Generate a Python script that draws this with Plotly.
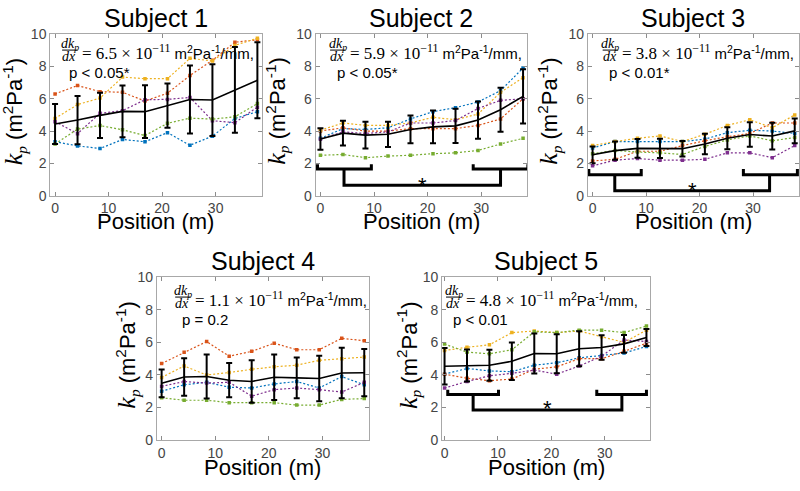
import plotly.graph_objects as go

W, H = 800, 491

# ---------------- data ----------------
POSITIONS = [0, 4.2, 8.4, 12.6, 16.8, 21.0, 25.2, 29.4, 33.6, 37.8]
X_TICKS = [0, 10, 20, 30]
Y_TICKS = [0, 2, 4, 6, 8, 10]
TITLES = ["Subject 1", "Subject 2", "Subject 3", "Subject 4", "Subject 5"]
SLOPES = ["6.5", "5.9", "3.8", "1.1", "4.8"]
P_TEXT = ["p < 0.05*", "p < 0.05*", "p < 0.01*", "p = 0.2", "p < 0.01"]

S1_BLUE = [3.34, 3.08, 2.92, 3.48, 3.34, 3.90, 3.12, 3.68, 4.78, 5.20]
S1_RED = [6.30, 6.82, 6.44, 6.40, 5.86, 6.34, 7.44, 8.38, 9.50, 9.65]
S1_YELLOW = [4.78, 5.64, 6.04, 7.34, 7.24, 7.24, 8.50, 8.34, 9.30, 9.75]
S1_PURPLE = [4.58, 3.84, 5.10, 5.26, 5.94, 5.96, 6.08, 4.64, 4.52, 5.48]
S1_GREEN = [3.20, 4.12, 4.34, 4.08, 3.72, 4.48, 4.80, 4.74, 4.88, 5.70]
S1_MEAN = [4.44, 4.68, 4.97, 5.22, 5.20, 5.57, 5.95, 5.92, 6.55, 7.14]
S1_ERR = [1.24, 1.49, 1.40, 1.60, 1.63, 1.37, 2.10, 2.22, 2.65, 2.35]

S2_BLUE = [3.55, 4.15, 4.10, 4.20, 4.75, 5.20, 5.45, 5.80, 6.50, 7.90]
S2_RED = [4.00, 4.20, 4.00, 4.00, 4.15, 4.15, 4.15, 4.35, 4.75, 6.00]
S2_YELLOW = [4.05, 4.50, 4.35, 4.35, 4.50, 4.85, 4.70, 5.05, 6.40, 7.30]
S2_PURPLE = [3.50, 3.95, 3.85, 3.95, 4.50, 4.50, 4.65, 5.40, 5.90, 6.00]
S2_GREEN = [2.50, 2.55, 2.35, 2.45, 2.50, 2.60, 2.65, 2.80, 3.20, 3.55]
S2_MEAN = [3.51, 3.87, 3.75, 3.80, 4.10, 4.26, 4.32, 4.68, 5.32, 6.15]
S2_ERR = [0.67, 0.77, 0.83, 0.78, 0.86, 1.02, 1.06, 1.15, 1.36, 1.68]

S3_BLUE = [2.95, 3.35, 3.35, 3.35, 3.35, 3.50, 3.90, 4.05, 4.00, 3.85]
S3_RED = [2.15, 2.25, 2.75, 2.75, 3.10, 3.40, 3.65, 3.85, 4.50, 4.50]
S3_YELLOW = [3.10, 3.35, 3.55, 3.70, 3.35, 3.80, 4.35, 4.70, 4.20, 5.00]
S3_PURPLE = [1.85, 2.20, 2.30, 2.20, 2.20, 2.25, 2.65, 2.65, 2.35, 3.10]
S3_GREEN = [2.60, 2.80, 2.70, 2.65, 2.55, 3.05, 3.45, 3.70, 3.40, 3.60]
S3_MEAN = [2.53, 2.79, 2.93, 2.93, 2.91, 3.20, 3.56, 3.79, 3.69, 4.01]
S3_ERR = [0.52, 0.57, 0.58, 0.60, 0.48, 0.63, 0.68, 0.76, 0.83, 0.76]

S4_BLUE = [3.00, 3.40, 3.55, 3.25, 3.20, 3.45, 3.60, 3.20, 3.90, 3.40]
S4_RED = [4.70, 5.40, 6.05, 5.15, 5.45, 5.95, 5.55, 5.55, 6.25, 6.10]
S4_YELLOW = [3.85, 4.55, 4.00, 4.15, 4.35, 4.50, 4.60, 4.90, 5.00, 5.10]
S4_PURPLE = [3.30, 3.60, 3.50, 3.55, 2.70, 3.10, 3.20, 3.10, 2.95, 3.55]
S4_GREEN = [2.60, 2.45, 2.45, 2.30, 2.30, 2.30, 2.15, 2.15, 2.50, 2.55]
S4_MEAN = [3.49, 3.88, 3.91, 3.68, 3.60, 3.86, 3.82, 3.78, 4.12, 4.14]
S4_ERR = [0.85, 1.15, 1.35, 1.05, 1.30, 1.40, 1.25, 1.40, 1.55, 1.45]

S5_BLUE = [4.05, 4.40, 4.25, 4.20, 4.60, 4.75, 5.05, 5.20, 5.35, 5.75]
S5_RED = [4.05, 3.80, 3.65, 3.75, 4.35, 4.50, 5.00, 5.00, 5.45, 5.95]
S5_YELLOW = [5.50, 5.70, 5.85, 6.60, 6.70, 6.60, 6.70, 6.35, 6.00, 6.75]
S5_PURPLE = [3.20, 3.60, 3.95, 4.10, 4.30, 4.05, 4.55, 5.15, 6.15, 6.05]
S5_GREEN = [5.90, 5.40, 5.30, 5.55, 6.65, 6.60, 6.75, 6.75, 6.60, 7.00]
S5_MEAN = [4.54, 4.58, 4.60, 4.84, 5.32, 5.30, 5.61, 5.69, 5.91, 6.30]
S5_ERR = [1.12, 0.98, 0.95, 1.15, 1.23, 1.20, 1.08, 0.75, 0.55, 0.52]

# significance brackets: [left start, left middle, left end], [right start, right middle, right end]
# levels: [small bracket y, small bracket tip y, big bracket y], star [x, y]
S2_BRK_LEFT = [-0.55, 4.4, 9.5]
S2_BRK_RIGHT = [28.5, 33.6, 38.7]
S2_BRK_LEVELS = [1.65, 1.95, 0.65]
S2_STAR = [19.0, 0.95]
S3_BRK_LEFT = [-0.7, 4.15, 9.1]
S3_BRK_RIGHT = [28.2, 33.1, 38.3]
S3_BRK_LEVELS = [1.3, 1.65, 0.3]
S3_STAR = [18.6, 0.62]
S5_BRK_LEFT = [0.6, 5.35, 10.1]
S5_BRK_RIGHT = [28.5, 33.2, 37.8]
S5_BRK_LEVELS = [2.8, 3.1, 1.85]
S5_STAR = [19.2, 2.25]

SERIES = [
    [S1_BLUE, S1_RED, S1_YELLOW, S1_PURPLE, S1_GREEN],
    [S2_BLUE, S2_RED, S2_YELLOW, S2_PURPLE, S2_GREEN],
    [S3_BLUE, S3_RED, S3_YELLOW, S3_PURPLE, S3_GREEN],
    [S4_BLUE, S4_RED, S4_YELLOW, S4_PURPLE, S4_GREEN],
    [S5_BLUE, S5_RED, S5_YELLOW, S5_PURPLE, S5_GREEN],
]
MEANS = [S1_MEAN, S2_MEAN, S3_MEAN, S4_MEAN, S5_MEAN]
ERRS = [S1_ERR, S2_ERR, S3_ERR, S4_ERR, S5_ERR]
BRACKETS = {
    1: (S2_BRK_LEFT, S2_BRK_RIGHT, S2_BRK_LEVELS, S2_STAR),
    2: (S3_BRK_LEFT, S3_BRK_RIGHT, S3_BRK_LEVELS, S3_STAR),
    4: (S5_BRK_LEFT, S5_BRK_RIGHT, S5_BRK_LEVELS, S5_STAR),
}

# ---------------- styling / layout ----------------
COLORS = ["#0072BD", "#D95319", "#EDB120", "#7E2F8E", "#77AC30"]
SANS = "Liberation Sans, Arial, sans-serif"
SERIF = "Liberation Serif, DejaVu Serif, serif"

# axes boxes in pixels: left, top, right, bottom
BOXES = [
    (49.3, 27.0, 261.0, 194.0),
    (315.0, 27.0, 527.0, 194.0),
    (587.5, 27.0, 799.0, 194.0),
    (156.0, 278.3, 368.0, 446.7),
    (441.7, 278.3, 650.0, 446.7),
]
X_RANGES = [[-0.9, 38.6], [-0.9, 38.6], [-0.9, 38.6], [-0.9, 38.6], [-0.45, 38.5]]
TEXT_DX = [0, 2.6, 3.0, 6.5, -8.0]
TEXT_DY = [0, 0, 0, 4, 4]
XLABEL_DY = [27, 27, 27, 28, 28]
YLABEL_DX = [-36, -39, -39, -29, -33]


def px(x):
    return x / W


def py(y):
    return 1 - y / H


fig = go.Figure()
annotations = []
shapes = []

for i in range(5):
    L, T, R, B = BOXES[i]
    xa = "x" if i == 0 else f"x{i+1}"
    ya = "y" if i == 0 else f"y{i+1}"
    axis_common = dict(
        showgrid=False, zeroline=False, showline=True, linecolor="#a8a8a8", linewidth=1,
        mirror="allticks", ticks="inside", ticklen=4, tickcolor="#8c8c8c",
        tickfont=dict(family=SANS, size=14, color="#454545"),
    )
    fig.update_layout({
        ("xaxis" if i == 0 else f"xaxis{i+1}"): dict(
            domain=[px(L), px(R)], anchor=ya, range=X_RANGES[i], tickvals=X_TICKS, **axis_common),
        ("yaxis" if i == 0 else f"yaxis{i+1}"): dict(
            domain=[py(B), py(T)], anchor=xa, range=[0, 10], tickvals=Y_TICKS, **axis_common),
    })

    for s, col in zip(SERIES[i], COLORS):
        fig.add_trace(go.Scatter(
            x=POSITIONS, y=s, mode="lines+markers", xaxis=xa, yaxis=ya,
            line=dict(color=col, width=1.2, dash="2px,2px"),
            marker=dict(color=col, size=3.5, symbol="square"),
            showlegend=False, hoverinfo="skip"))
    fig.add_trace(go.Scatter(
        x=POSITIONS, y=MEANS[i], mode="lines", xaxis=xa, yaxis=ya,
        line=dict(color="black", width=1.6),
        error_y=dict(type="data", array=ERRS[i], color="black", thickness=2, width=3),
        showlegend=False, hoverinfo="skip"))

    if i in BRACKETS:
        left, right, lev, star = BRACKETS[i]
        ys, yt, yb = lev
        for seg in (left, right):
            fig.add_trace(go.Scatter(
                x=[seg[0], seg[0], seg[2], seg[2]], y=[yt, ys, ys, yt], mode="lines",
                xaxis=xa, yaxis=ya, line=dict(color="black", width=3),
                showlegend=False, hoverinfo="skip"))
        fig.add_trace(go.Scatter(
            x=[left[1], left[1], right[1], right[1]], y=[ys, yb, yb, ys], mode="lines",
            xaxis=xa, yaxis=ya, line=dict(color="black", width=3),
            showlegend=False, hoverinfo="skip"))
        annotations.append(dict(
            x=star[0], y=star[1], xref=xa, yref=ya, text="*", showarrow=False,
            font=dict(family=SANS, size=22, color="black"), yshift=-5))

    cx = (L + R) / 2
    # title
    annotations.append(dict(x=px(cx), y=py(T - 17), xref="paper", yref="paper",
                            text=TITLES[i], showarrow=False, xanchor="center", yanchor="middle",
                            font=dict(family=SANS, size=25, color="black")))
    # x label
    annotations.append(dict(x=px(cx), y=py(B + XLABEL_DY[i]), xref="paper", yref="paper",
                            text="Position (m)", showarrow=False, xanchor="center", yanchor="middle",
                            font=dict(family=SANS, size=22, color="black")))
    # y label
    annotations.append(dict(
        x=px(L + YLABEL_DX[i]), y=py((T + B) / 2 - 4), xref="paper", yref="paper",
        text=(f'<span style="font-family:{SERIF}; font-size:26px"><i>k</i></span>'
              f'<span style="font-family:{SERIF}"><sub><i>p</i></sub></span>'
              ' (m<sup>2</sup>Pa<sup>-1</sup>)'),
        textangle=-90, showarrow=False, xanchor="center", yanchor="middle",
        font=dict(family=SANS, size=22, color="black")))

    # equation: fraction dk_p/dx
    ox, oy = L + 12.4 + TEXT_DX[i], T + TEXT_DY[i]
    annotations.append(dict(x=px(ox + 7.0), y=py(oy + 10.5), xref="paper", yref="paper",
                            text="<i>dk<sub>p</sub></i>", showarrow=False,
                            xanchor="center", yanchor="middle",
                            font=dict(family=SERIF, size=14, color="black")))
    annotations.append(dict(x=px(ox + 6.5), y=py(oy + 23), xref="paper", yref="paper",
                            text="<i>dx</i>", showarrow=False,
                            xanchor="center", yanchor="middle",
                            font=dict(family=SERIF, size=14, color="black")))
    shapes.append(dict(type="line", xref="paper", yref="paper",
                       x0=px(ox - 0.5), x1=px(ox + 15), y0=py(oy + 16.5), y1=py(oy + 16.5),
                       line=dict(color="black", width=1)))
    annotations.append(dict(
        x=px(ox + 17.0), y=py(oy + 18), xref="paper", yref="paper",
        text=(f'<span style="font-family:{SERIF}; font-size:17px">= {SLOPES[i]} × 10<sup>−11</sup></span>'
              ' m<sup>2</sup>Pa<sup>-1</sup>/mm,'),
        showarrow=False, xanchor="left", yanchor="middle",
        font=dict(family=SANS, size=15, color="black")))
    annotations.append(dict(
        x=px(ox + 4.3), y=py(oy + 40), xref="paper", yref="paper",
        text=P_TEXT[i], showarrow=False, xanchor="left", yanchor="middle",
        font=dict(family=SANS, size=15, color="black")))

fig.update_layout(
    width=W, height=H, margin=dict(l=0, r=0, t=0, b=0),
    paper_bgcolor="white", plot_bgcolor="white",
    annotations=annotations, shapes=shapes, showlegend=False,
)

fig.write_html("out.html", config={"displayModeBar": False},
               post_script="document.body.style.margin='0';document.body.style.overflow='hidden';")
